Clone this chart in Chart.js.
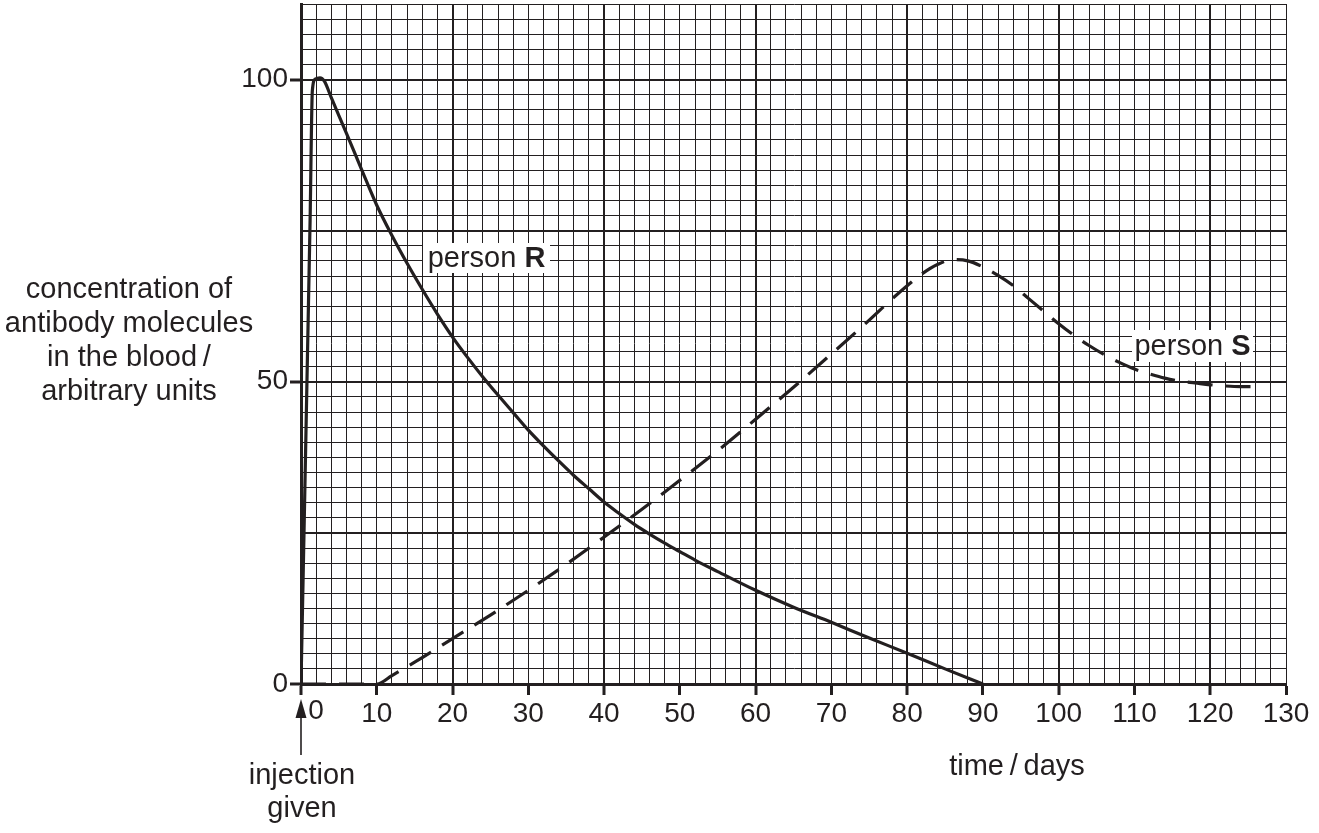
<!DOCTYPE html>
<html>
<head>
<meta charset="utf-8">
<script src="https://cdn.jsdelivr.net/npm/chart.js@4.4.0/dist/chart.umd.min.js"></script>
<style>
  html, body { margin: 0; padding: 0; background: #fff; }
  #wrap { width: 1319px; height: 833px; }
</style>
</head>
<body>
<div id="wrap"><canvas id="chart" width="1319" height="833"></canvas></div>
<script>
// person R (solid line)
const rDays = [0, 1.2, 1.5, 1.9, 2.5, 3.1, 4, 6, 8, 10, 12, 14, 16, 18, 20, 22, 24, 26, 28, 30, 32, 34, 36, 38, 40, 42, 44, 46, 48, 50, 52, 55, 60, 65, 70, 75, 80, 85, 90];
const rConc = [0, 76.7, 98.2, 100.1, 100.3, 99.7, 97.0, 91.1, 85.1, 79.2, 74.2, 69.6, 65.3, 61.2, 57.4, 54.0, 50.8, 47.8, 44.9, 42.0, 39.4, 36.9, 34.5, 32.3, 30.1, 28.2, 26.4, 24.8, 23.3, 21.9, 20.5, 18.6, 15.5, 12.7, 10.2, 7.6, 5.1, 2.5, 0];

// person S (dashed line)
const sDays = [0, 10, 12, 15, 20, 25, 30, 35, 40, 45, 50, 55, 60, 65, 70, 75, 78, 80, 82, 84, 86, 88, 90, 92, 94, 96, 98, 100, 102, 104, 106, 108, 110, 112, 114, 116, 118, 120, 122, 124, 127];
const sConc = [0, 0, 1.4, 3.6, 7.5, 11.4, 15.5, 19.8, 24.3, 28.9, 33.7, 38.6, 43.8, 49.1, 54.6, 60.2, 63.7, 65.9, 67.9, 69.4, 70.2, 70.0, 69.0, 67.6, 65.9, 63.8, 61.7, 59.6, 57.7, 56.0, 54.5, 53.2, 52.1, 51.3, 50.6, 50.1, 49.8, 49.5, 49.3, 49.2, 49.2];

const xTicks = [0, 10, 20, 30, 40, 50, 60, 70, 80, 90, 100, 110, 120, 130];
const yTicks = [0, 50, 100];
const yTitle = ['concentration of', 'antibody molecules', 'in the blood\u2009/', 'arbitrary units'];
const xTitle = 'time\u2009/\u2009days';
const injectionText = ['injection', 'given'];
const seriesLabels = [['person ', 'R'], ['person ', 'S']];

const INK = '#231f20';
const FONT = '"Liberation Sans", Arial, Helvetica, sans-serif';

const toPoints = (xs, ys) => xs.map((x, i) => ({ x: x, y: ys[i] }));

// labels, titles and the arrow
const textPlugin = {
  id: 'texts',
  afterDraw(chart) {
    const ctx = chart.ctx;
    const xs = chart.scales.x;
    ctx.save();
    ctx.fillStyle = INK;

    // y title
    ctx.font = '29px ' + FONT;
    ctx.textAlign = 'center';
    ctx.textBaseline = 'alphabetic';
    yTitle.forEach((t, i) => ctx.fillText(t, 129, 298 + i * 34));

    // x title
    ctx.fillText(xTitle, 1017, 775);

    // injection given
    const x0 = xs.getPixelForValue(0);
    injectionText.forEach((t, i) => ctx.fillText(t, x0 + 1, 784 + i * 33));

    // "0" tick label, pushed right of the arrow
    ctx.font = '28px ' + FONT;
    ctx.textBaseline = 'top';
    ctx.fillText(String(xTicks[0]), x0 + 15, xs.top + 13);

    // arrow
    ctx.strokeStyle = INK;
    ctx.lineWidth = 1.6;
    ctx.beginPath();
    ctx.moveTo(x0, 755);
    ctx.lineTo(x0, 716);
    ctx.stroke();
    ctx.beginPath();
    ctx.moveTo(x0, 699);
    ctx.lineTo(x0 - 5.5, 718);
    ctx.lineTo(x0 + 5.5, 718);
    ctx.closePath();
    ctx.fill();

    // series labels with white boxes
    const boxes = [
      { x: 423, y: 243, w: 127, h: 30, base: 267 },
      { x: 1132, y: 330, w: 121, h: 32, base: 355 }
    ];
    seriesLabels.forEach((lab, i) => {
      const b = boxes[i];
      ctx.fillStyle = '#fff';
      ctx.fillRect(b.x, b.y, b.w, b.h);
      ctx.fillStyle = INK;
      ctx.textAlign = 'left';
      ctx.textBaseline = 'alphabetic';
      ctx.font = '29px ' + FONT;
      const w1 = ctx.measureText(lab[0]).width;
      ctx.font = 'bold 29px ' + FONT;
      const w2 = ctx.measureText(lab[1]).width;
      const sx = b.x + (b.w - w1 - w2) / 2;
      ctx.font = '29px ' + FONT;
      ctx.fillText(lab[0], sx, b.base);
      ctx.font = 'bold 29px ' + FONT;
      ctx.fillText(lab[1], sx + w1, b.base);
    });
    ctx.restore();
  }
};

new Chart(document.getElementById('chart'), {
  type: 'line',
  data: {
    datasets: [
      {
        label: 'person R',
        data: toPoints(rDays, rConc),
        borderColor: INK,
        borderWidth: 3.2,
        pointRadius: 0,
        cubicInterpolationMode: 'monotone',
        fill: false
      },
      {
        label: 'person S',
        data: toPoints(sDays, sConc),
        borderColor: INK,
        borderWidth: 3.2,
        borderDash: [25, 13],
        pointRadius: 0,
        cubicInterpolationMode: 'monotone',
        fill: false
      }
    ]
  },
  options: {
    responsive: false,
    animation: false,
    devicePixelRatio: 1,
    layout: { padding: { top: 4, right: 33, left: 0, bottom: 0 } },
    plugins: { legend: { display: false }, tooltip: { enabled: false } },
    scales: {
      x: {
        type: 'linear',
        min: 0,
        max: 130,
        afterFit: s => { s.height = 149; s.paddingLeft = 0; s.paddingRight = 0; },
        ticks: {
          stepSize: 2,
          autoSkip: false,
          maxRotation: 0,
          padding: 2,
          color: INK,
          font: { family: FONT, size: 28 },
          callback: v => (xTicks.includes(v) && v !== 0) ? String(v) : ''
        },
        grid: {
          color: INK,
          lineWidth: c => (c.tick && c.tick.value % 20 === 0) ? 2 : 1,
          tickLength: 11,
          tickWidth: 3,
          tickColor: c => (c.tick && xTicks.includes(c.tick.value)) ? INK : 'rgba(0,0,0,0)'
        },
        border: { display: true, color: INK, width: 3 }
      },
      y: {
        type: 'linear',
        min: 0,
        max: 112.5,
        afterFit: s => { s.width = 301; s.paddingTop = 0; s.paddingBottom = 0; },
        ticks: {
          stepSize: 2.5,
          autoSkip: false,
          padding: 2,
          color: INK,
          font: { family: FONT, size: 28 },
          callback: v => yTicks.includes(v) ? String(v) : ''
        },
        grid: {
          color: INK,
          lineWidth: c => (c.tick && c.tick.value % 25 === 0) ? 2 : 1,
          tickLength: 11,
          tickWidth: 3,
          tickColor: c => (c.tick && yTicks.includes(c.tick.value)) ? INK : 'rgba(0,0,0,0)'
        },
        border: { display: true, color: INK, width: 3 }
      }
    }
  },
  plugins: [textPlugin]
});
</script>
</body>
</html>
